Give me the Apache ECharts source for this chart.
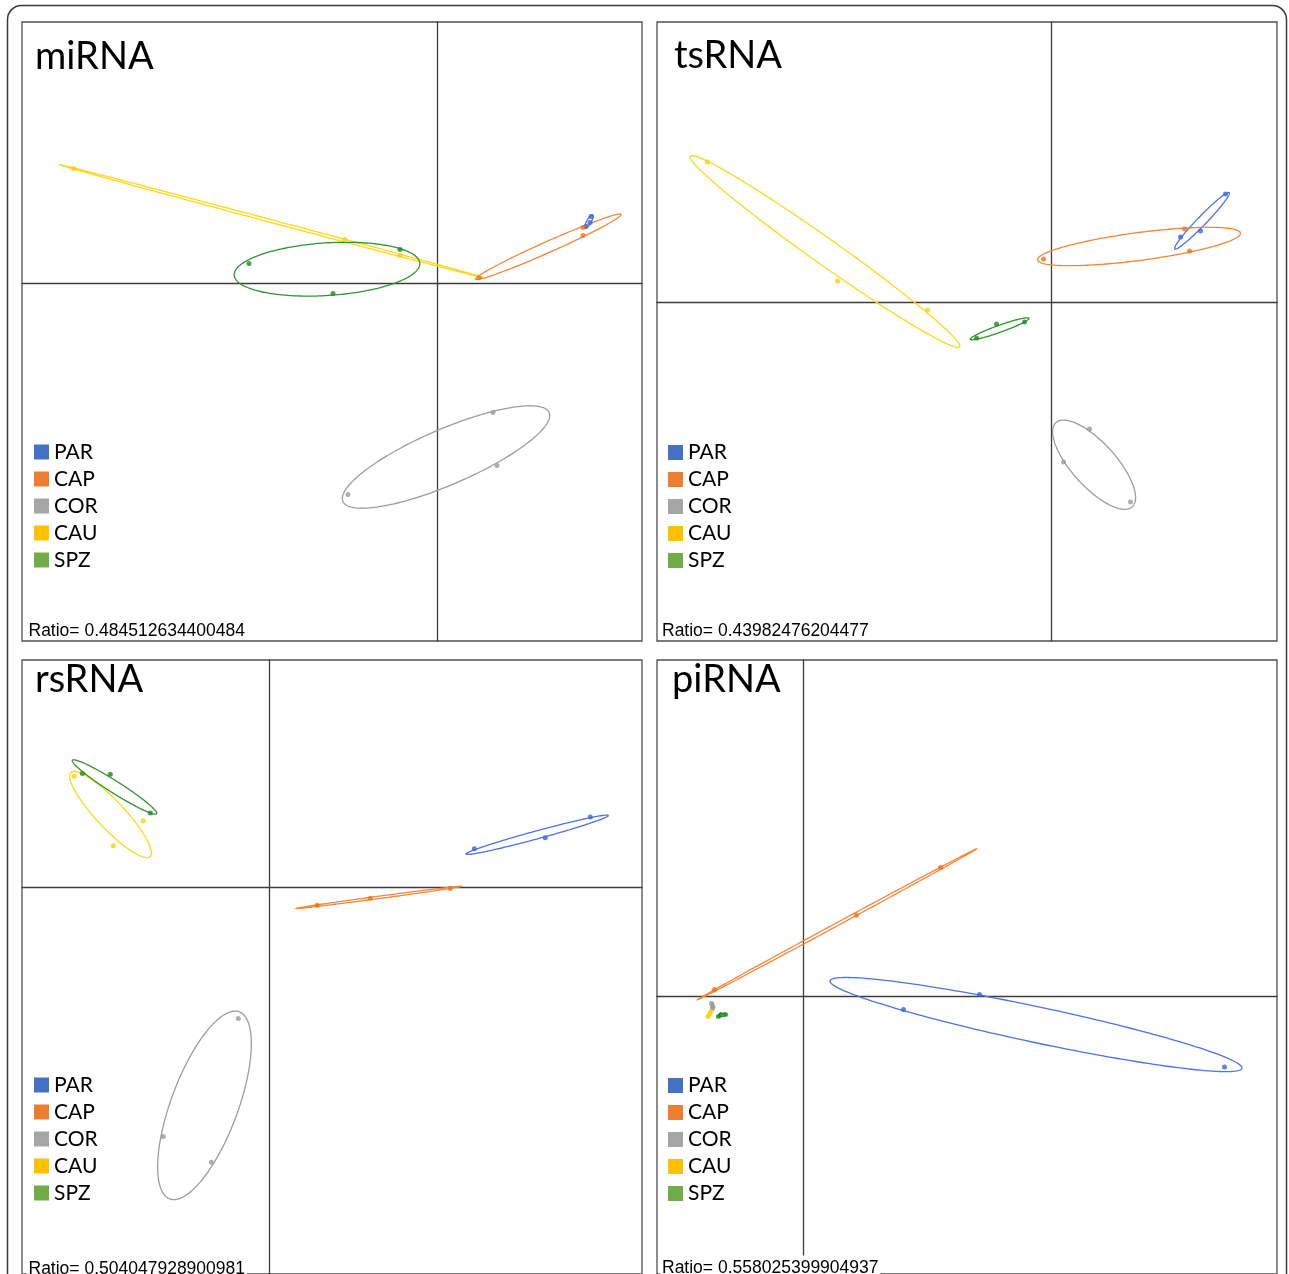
<!DOCTYPE html>
<html>
<head>
<meta charset="utf-8">
<title>PCA panels</title>
<script src="https://cdn.jsdelivr.net/npm/echarts@6/dist/echarts.min.js"></script>
<style>
html,body{margin:0;padding:0;background:#fff;}
#chart{width:1289px;height:1274px;}
</style>
</head>
<body>
<div id="chart"></div>
<script>
// ---------------- data ----------------
const groups = ['PAR', 'CAP', 'COR', 'CAU', 'SPZ'];
const panelNames = ['miRNA', 'tsRNA', 'rsRNA', 'piRNA'];
const ratios = ['0.484512634400484', '0.43982476204477', '0.504047928900981', '0.558025399904937'];

// points per group (PAR, CAP, COR, CAU, SPZ): [x, y]
const miRNA_points = [
  [[1.54, 0.67], [1.53, 0.61], [1.49, 0.57]],
  [[0.42, 0.06], [1.46, 0.56], [1.46, 0.48]],
  [[0.56, -1.29], [0.60, -1.82], [-0.89, -2.11]],
  [[-3.63, 1.15], [-0.92, 0.44], [-0.37, 0.28]],
  [[-1.88, 0.20], [-0.37, 0.34], [-1.04, -0.10]]
];
const tsRNA_points = [
  [[1.29, 0.65], [1.49, 0.71], [1.74, 1.08]],
  [[-0.08, 0.43], [1.33, 0.73], [1.38, 0.51]],
  [[0.38, -1.27], [0.12, -1.60], [0.79, -2.00]],
  [[-3.44, 1.40], [-2.14, 0.21], [-1.24, -0.08]],
  [[-0.55, -0.22], [-0.27, -0.20], [-0.75, -0.36]]
];
const rsRNA_points = [
  [[2.05, 0.39], [2.76, 0.50], [3.21, 0.71]],
  [[0.48, -0.18], [1.01, -0.11], [1.81, -0.01]],
  [[-0.31, -1.32], [-1.06, -2.51], [-0.58, -2.77]],
  [[-1.95, 1.12], [-1.26, 0.67], [-1.56, 0.42]],
  [[-1.87, 1.15], [-1.59, 1.14], [-1.19, 0.75]]
];
const piRNA_points = [
  [[1.00, -0.13], [1.76, 0.02], [4.21, -0.71]],
  [[-0.89, 0.07], [0.53, 0.82], [1.37, 1.30]],
  [[-0.92, -0.07], [-0.905, -0.10], [-0.91, -0.12]],
  [[-0.955, -0.20], [-0.94, -0.18], [-0.925, -0.15]],
  [[-0.85, -0.20], [-0.825, -0.18], [-0.78, -0.18]]
];

// ellipses per group: [centerX, centerY, semiMajor, semiMinor, angleDeg]
const miRNA_ellipses = [
  [1.52, 0.62, 0.077, 0.022, 60],
  [1.114, 0.367, 0.797, 0.055, 24],
  [0.09, -1.735, 1.123, 0.278, 23.3],
  [-1.653, 0.623, 2.19, 0.014, -14.9],
  [-1.10, 0.143, 0.93, 0.263, 3.7]
];
const tsRNA_ellipses = [
  [1.505, 0.812, 0.392, 0.045, 46],
  [0.875, 0.555, 1.023, 0.139, 7.5],
  [0.426, -1.627, 0.568, 0.22, -47.8],
  [-2.265, 0.505, 1.65, 0.13, -35.3],
  [-0.519, -0.268, 0.311, 0.035, 19.7]
];
const rsRNA_ellipses = [
  [2.679, 0.531, 0.738, 0.04, 15.3],
  [1.097, -0.10, 0.838, 0.012, 7.7],
  [-0.648, -2.197, 1.005, 0.335, 69.8],
  [-1.588, 0.735, 0.58, 0.14, -47],
  [-1.548, 1.013, 0.50, 0.06, -32.6]
];
const piRNA_ellipses = [
  [2.325, -0.282, 2.106, 0.18, -12.08],
  [0.338, 0.73, 1.593, 0.015, 28.6],
  [-0.912, -0.094, 0.03, 0.012, 80],
  [-0.94, -0.172, 0.04, 0.012, 60],
  [-0.815, -0.187, 0.04, 0.015, 10]
];

// axis extents per panel
const xRanges = [[-4.15, 2.05], [-3.945, 2.255], [-2.473, 3.727], [-1.465, 4.735]];
const yRanges = [[-3.575, 2.615], [-3.39, 2.80], [-3.897, 2.293], [-2.797, 3.393]];

// ---------------- styles / layout ----------------
const pointColors = ['#3a64dc', '#f47114', '#9a9a9a', '#ffd000', '#1c8a1c'];
const lineColors = ['#4a74e4', '#f5863a', '#9d9d9d', '#ffd71a', '#2f962f'];
const legendColors = ['#4472C4', '#ED7D31', '#A5A5A5', '#FFC000', '#70AD47'];
const gridBoxes = [
  {left: 22, top: 22}, {left: 657, top: 22},
  {left: 22, top: 660}, {left: 657, top: 660}
];
const titlePos = [[35, 57], [674, 56], [35, 680], [672, 680]];
const legendPos = [[34, 441.5], [668, 442], [34, 1074.5], [668, 1075]];
const ratioPos = [[26.5, 631.5], [660, 631.5], [26.5, 1269], [660, 1268.5]];
const ratioBackground = [null, null, '#fff', '#fff'];

const allPoints = [miRNA_points, tsRNA_points, rsRNA_points, piRNA_points];
const allEllipses = [miRNA_ellipses, tsRNA_ellipses, rsRNA_ellipses, piRNA_ellipses];

function ellipseRenderer(color) {
  return function (params, api) {
    const cx = api.value(0), cy = api.value(1);
    const a = api.value(2), b = api.value(3);
    const ang = api.value(4) * Math.PI / 180;
    const pts = [];
    const n = 180;
    for (let i = 0; i <= n; i++) {
      const t = i / n * Math.PI * 2;
      const x = cx + a * Math.cos(t) * Math.cos(ang) - b * Math.sin(t) * Math.sin(ang);
      const y = cy + a * Math.cos(t) * Math.sin(ang) + b * Math.sin(t) * Math.cos(ang);
      pts.push(api.coord([x, y]));
    }
    return {
      type: 'polyline',
      shape: {points: pts},
      style: {fill: null, stroke: color, lineWidth: 1.3}
    };
  };
}

const grids = [], xAxes = [], yAxes = [], series = [], legends = [], graphics = [];

panelNames.forEach((name, p) => {
  grids.push({
    left: gridBoxes[p].left, top: gridBoxes[p].top, width: 620, height: 619,
    show: true, borderColor: '#505050', borderWidth: 1.3, backgroundColor: 'transparent'
  });
  const axisCommon = {
    type: 'value', gridIndex: p,
    axisLabel: {show: false}, axisTick: {show: false}, splitLine: {show: false},
    axisLine: {show: true, onZero: true, lineStyle: {color: '#3c3c3c', width: 1.3}}
  };
  xAxes.push(Object.assign({}, axisCommon, {min: xRanges[p][0], max: xRanges[p][1]}));
  yAxes.push(Object.assign({}, axisCommon, {min: yRanges[p][0], max: yRanges[p][1]}));

  groups.forEach((g, k) => {
    series.push({
      name: g, type: 'custom', xAxisIndex: p, yAxisIndex: p,
      renderItem: ellipseRenderer(lineColors[k]),
      data: [allEllipses[p][k]],
      encode: {x: 0, y: 1},
      clip: false, silent: true, z: 2,
      itemStyle: {color: legendColors[k]}
    });
    series.push({
      name: g, type: 'scatter', xAxisIndex: p, yAxisIndex: p,
      data: allPoints[p][k], symbol: 'circle', symbolSize: 5,
      itemStyle: {color: pointColors[k]}, silent: true, z: 3
    });
  });

  legends.push({
    orient: 'vertical', left: legendPos[p][0], top: legendPos[p][1],
    padding: 0, itemWidth: 15, itemHeight: 15, itemGap: 6,
    icon: 'rect', selectedMode: false,
    textStyle: {fontFamily: 'Lato', fontSize: 21, color: '#000'},
    data: groups.map((g, k) => ({name: g, icon: 'rect', itemStyle: {color: legendColors[k], borderWidth: 0}}))
  });

  graphics.push({
    type: 'text', x: titlePos[p][0], y: titlePos[p][1], z: 100,
    style: {text: name, fontFamily: 'Lato', fontSize: 38, fill: '#000', align: 'left', verticalAlign: 'middle'}
  });
  const ratioStyle = {
    text: 'Ratio= ' + ratios[p], fontFamily: 'Liberation Sans', fontSize: 17.5, fill: '#000',
    align: 'left', verticalAlign: 'middle', padding: [4, 2, 4, 2]
  };
  if (ratioBackground[p]) ratioStyle.backgroundColor = ratioBackground[p];
  graphics.push({
    type: 'text', x: ratioPos[p][0], y: ratioPos[p][1], z: 100, style: ratioStyle
  });
});

graphics.push({
  type: 'rect', z: 100,
  shape: {x: 7.5, y: 5.5, width: 1279, height: 1330, r: 14},
  style: {fill: null, stroke: '#3a3a3a', lineWidth: 1.5}
});

const chart = echarts.init(document.getElementById('chart'), null, {renderer: 'canvas'});
chart.setOption({
  animation: false,
  backgroundColor: '#fff',
  grid: grids,
  xAxis: xAxes,
  yAxis: yAxes,
  legend: legends,
  graphic: graphics,
  series: series
});
</script>
</body>
</html>
